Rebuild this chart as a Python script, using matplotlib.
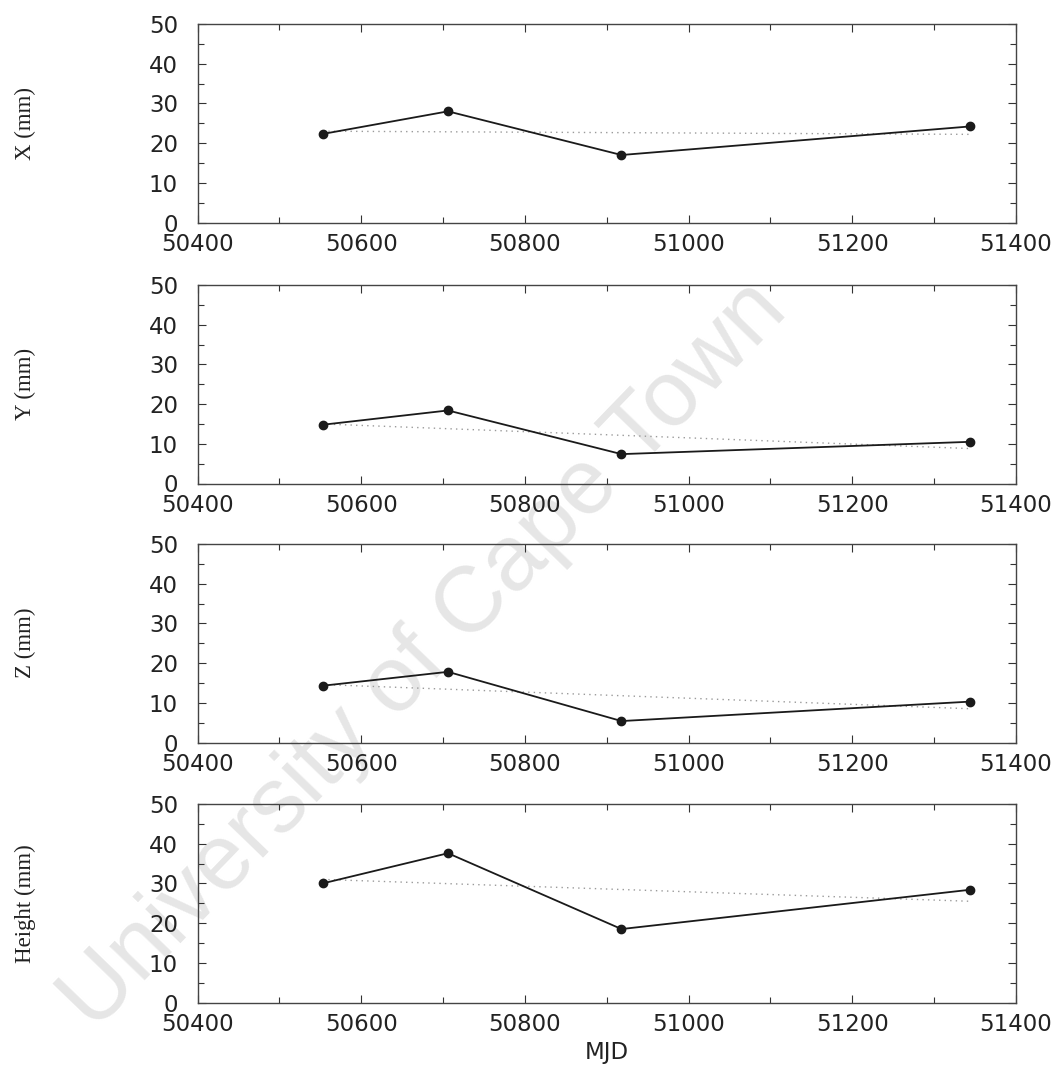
import matplotlib
matplotlib.use("Agg")
import matplotlib.pyplot as plt
from matplotlib.ticker import MultipleLocator

# ---- data ----
mjd = [50553, 50706, 50918, 51344]
x_mm = [22.3, 28.0, 17.0, 24.2]
y_mm = [14.8, 18.4, 7.4, 10.5]
z_mm = [14.3, 17.8, 5.4, 10.3]
h_mm = [30.0, 37.6, 18.5, 28.4]

# trend (dotted) line end points
trend_mjd = [50553, 51344]
x_trend = [23.0, 22.2]
y_trend = [15.0, 8.8]
z_trend = [14.6, 8.5]
h_trend = [31.0, 25.5]

labels = ["X (mm)", "Y (mm)", "Z (mm)", "Height (mm)"]
series = [x_mm, y_mm, z_mm, h_mm]
trends = [x_trend, y_trend, z_trend, h_trend]

W, H = 1061, 1065
fig = plt.figure(figsize=(W / 100, H / 100), dpi=100)
fig.patch.set_facecolor("white")

# watermark behind the axes
fig.text(0.400, 0.384, "University of Cape Town", rotation=46,
         ha="center", va="center", fontsize=67, color="#e6e6e6",
         family="Liberation Sans", zorder=-1)

left_px, right_px = 197.5, 1016
tops = [24, 285, 544, 804]
height_px = 198.5

tick_font = dict(family="DejaVu Sans", size=16.5)

for i, (lab, vals, tr) in enumerate(zip(labels, series, trends)):
    top = tops[i]
    ax = fig.add_axes([left_px / W, 1 - (top + height_px) / H,
                       (right_px - left_px) / W, height_px / H])
    ax.set_facecolor("none")
    ax.plot(trend_mjd, tr, linestyle=(0, (1, 3)), color="#9a9a9a", lw=1.0, zorder=2)
    ax.plot(mjd, vals, "-", color="#1a1a1a", lw=1.3, marker="o", ms=6,
            mfc="#1a1a1a", mec="#1a1a1a", zorder=3)
    ax.set_xlim(50400, 51400)
    ax.set_ylim(0, 50)
    ax.xaxis.set_major_locator(MultipleLocator(200))
    ax.xaxis.set_minor_locator(MultipleLocator(100))
    ax.yaxis.set_major_locator(MultipleLocator(10))
    ax.yaxis.set_minor_locator(MultipleLocator(5))
    ax.tick_params(which="both", direction="in", top=True, right=True,
                   color="#333333", width=0.8)
    ax.tick_params(which="major", length=6)
    ax.tick_params(which="minor", length=4)
    ax.tick_params(axis="x", which="major", pad=7.5)
    ax.tick_params(axis="y", which="major", pad=14)
    for t in ax.get_xticklabels() + ax.get_yticklabels():
        t.set_fontfamily(tick_font["family"])
        t.set_fontsize(tick_font["size"])
        t.set_color("#222222")
    for sp in ax.spines.values():
        sp.set_color("#444444")
        sp.set_linewidth(1.0)
    fig.text(25 / W, 1 - (top + height_px / 2) / H, lab, rotation=90,
             ha="center", va="center", family="Liberation Serif",
             fontsize=16.5, color="#222222")

fig.text(607 / W, 1 - 1053 / H, "MJD", ha="center", va="center",
         family="DejaVu Sans", fontsize=16.5, color="#222222")

fig.savefig("out.png", dpi=100)
